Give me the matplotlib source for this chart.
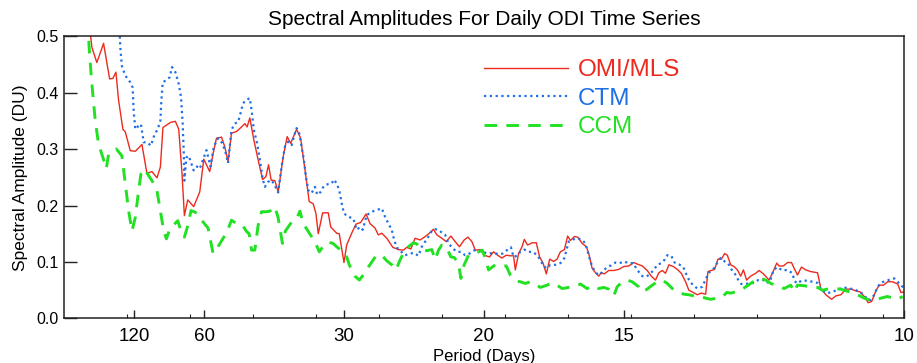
import numpy as np
import matplotlib
matplotlib.use("Agg")
import matplotlib.pyplot as plt
from matplotlib.ticker import FixedLocator

plt.rcParams["font.family"] = ["Liberation Sans", "DejaVu Sans"]

# frequencies in 1e-3 cycles/day, amplitudes in DU
omi_freq = [2.86, 3.32, 3.91, 4.71, 5.43, 5.82, 6.18, 6.50, 7.01, 7.30,
            7.89, 8.49, 9.28, 9.87, 10.47, 11.07, 11.47, 11.78, 12.67, 13.26,
            13.66, 14.05, 14.33, 14.73, 15.44, 16.16, 16.64, 17.35, 17.75, 18.15,
            18.75, 19.14, 19.53, 19.94, 20.54, 21.13, 21.53, 21.80, 22.12, 22.60,
            23.11, 23.64, 24.03, 24.35, 24.66, 25.10, 25.50, 26.09, 26.57, 26.98,
            27.69, 28.17, 28.48, 28.80, 29.19, 29.67, 29.99, 30.27, 30.79, 31.46,
            31.75, 32.46, 32.77, 33.33, 33.65, 34.25, 34.76, 35.32, 35.96, 36.43,
            37.03, 37.42, 37.83, 38.43, 39.14, 39.81, 40.41, 40.81, 41.29, 41.80,
            42.40, 42.99, 43.51, 43.98, 44.39, 44.98, 45.50, 46.06, 46.57, 47.08,
            47.64, 48.09, 48.56, 48.96, 49.55, 50.03, 50.66, 51.14, 51.62, 52.14,
            52.65, 53.13, 53.52, 53.73, 54.12, 54.53, 54.80, 55.19, 55.72, 56.23,
            56.62, 57.03, 57.42, 57.82, 58.29, 58.70, 59.09, 59.57, 59.96, 60.29,
            60.76, 61.16, 61.68, 62.19, 62.47, 62.87, 63.27, 63.66, 63.95, 64.34,
            64.85, 65.45, 66.05, 66.64, 67.24, 67.83, 68.31, 68.84, 69.43, 69.91,
            70.42, 70.82, 71.22, 71.61, 72.01, 72.53, 73.01, 73.49, 74.00, 74.39,
            74.92, 75.40, 75.87, 76.39, 76.66, 77.07, 77.46, 77.85, 78.26, 78.65,
            78.97, 79.37, 79.76, 80.17, 80.56, 80.88, 81.27, 81.75, 82.35, 82.74,
            83.27, 83.94, 84.34, 84.85, 85.13, 85.65, 86.13, 86.61, 86.92, 87.32,
            87.80, 88.31, 88.91, 89.71, 90.10, 90.70, 91.38, 91.89, 92.49, 93.08,
            93.68, 94.27, 94.79, 95.26, 95.74, 96.15, 96.66, 97.05, 97.58, 98.05,
            98.65, 99.25, 99.64, 100.0]
omi_amp = [0.54, 0.480, 0.453, 0.487, 0.424, 0.425, 0.436, 0.386, 0.335, 0.330,
           0.297, 0.296, 0.308, 0.257, 0.260, 0.249, 0.268, 0.338, 0.347, 0.349,
           0.335, 0.256, 0.182, 0.210, 0.198, 0.224, 0.282, 0.260, 0.292, 0.319,
           0.321, 0.304, 0.278, 0.328, 0.331, 0.339, 0.345, 0.339, 0.355, 0.316,
           0.281, 0.246, 0.251, 0.272, 0.245, 0.244, 0.224, 0.286, 0.322, 0.310,
           0.335, 0.319, 0.286, 0.251, 0.207, 0.203, 0.186, 0.150, 0.187, 0.187,
           0.162, 0.151, 0.150, 0.099, 0.130, 0.151, 0.167, 0.170, 0.185, 0.168,
           0.160, 0.148, 0.151, 0.142, 0.126, 0.122, 0.121, 0.126, 0.123, 0.142,
           0.139, 0.145, 0.151, 0.158, 0.148, 0.142, 0.136, 0.146, 0.136, 0.127,
           0.139, 0.144, 0.136, 0.121, 0.122, 0.112, 0.109, 0.118, 0.112, 0.107,
           0.112, 0.111, 0.111, 0.086, 0.115, 0.127, 0.140, 0.130, 0.134, 0.134,
           0.109, 0.098, 0.079, 0.105, 0.101, 0.105, 0.118, 0.122, 0.146, 0.138,
           0.145, 0.144, 0.133, 0.127, 0.115, 0.089, 0.081, 0.075, 0.081, 0.079,
           0.085, 0.085, 0.087, 0.092, 0.093, 0.099, 0.096, 0.093, 0.085, 0.075,
           0.068, 0.081, 0.085, 0.080, 0.095, 0.092, 0.087, 0.080, 0.065, 0.050,
           0.046, 0.042, 0.045, 0.043, 0.083, 0.085, 0.087, 0.105, 0.105, 0.115,
           0.112, 0.095, 0.092, 0.086, 0.075, 0.086, 0.068, 0.075, 0.080, 0.085,
           0.079, 0.068, 0.080, 0.098, 0.093, 0.093, 0.099, 0.099, 0.089, 0.077,
           0.091, 0.086, 0.083, 0.081, 0.053, 0.042, 0.034, 0.040, 0.042, 0.052,
           0.052, 0.049, 0.047, 0.039, 0.028, 0.030, 0.049, 0.059, 0.059, 0.065,
           0.065, 0.061, 0.046, 0.047]

ctm_freq = [6.56, 6.70, 6.89, 7.30, 7.89, 8.17, 8.29, 8.49, 8.88, 9.16,
            9.48, 9.87, 10.35, 10.76, 11.15, 11.47, 11.59, 11.75, 12.07, 12.58,
            12.86, 13.26, 13.66, 13.93, 14.13, 14.25, 14.33, 14.57, 14.85, 15.12,
            15.44, 15.84, 16.16, 16.55, 16.96, 17.44, 17.83, 18.34, 18.87, 19.26,
            19.53, 19.94, 20.33, 20.73, 21.01, 21.32, 21.73, 22.12, 22.33, 22.60,
            22.99, 23.32, 23.64, 23.91, 24.31, 24.71, 25.10, 25.50, 25.90, 26.30,
            26.69, 27.10, 27.37, 27.69, 28.00, 28.29, 28.56, 28.80, 29.08, 29.48,
            29.87, 30.15, 30.55, 30.95, 31.46, 31.87, 32.14, 32.46, 32.77, 33.06,
            33.33, 33.85, 34.44, 34.85, 35.24, 35.56, 36.04, 36.64, 37.23, 37.83,
            38.22, 38.62, 39.02, 39.30, 39.62, 40.01, 40.61, 41.20, 41.68, 42.19,
            42.60, 42.99, 43.39, 43.79, 44.19, 44.58, 44.98, 45.38, 45.77, 46.30,
            46.77, 47.25, 47.76, 48.28, 48.75, 49.23, 49.75, 50.54, 51.14, 51.73,
            52.26, 52.74, 53.21, 53.52, 53.93, 54.32, 54.80, 55.31, 55.84, 56.31,
            56.71, 57.10, 57.51, 57.90, 58.50, 59.09, 59.57, 59.81, 60.08, 60.61,
            61.16, 61.68, 62.07, 62.35, 62.67, 62.99, 63.39, 63.78, 64.26, 64.73,
            65.26, 65.65, 66.16, 66.64, 67.24, 67.76, 68.24, 68.84, 69.35, 69.83,
            70.22, 70.63, 71.10, 71.50, 71.82, 72.30, 72.69, 73.20, 73.73, 74.12,
            74.51, 74.92, 75.40, 75.99, 76.50, 76.90, 77.38, 77.78, 78.17, 78.65,
            79.05, 79.45, 79.84, 80.24, 80.64, 81.04, 81.55, 82.15, 82.62, 83.15,
            83.54, 84.05, 84.46, 84.94, 85.53, 86.13, 86.73, 86.92, 87.24, 87.80,
            88.51, 89.11, 89.71, 90.10, 90.70, 91.29, 91.77, 92.28, 92.88, 93.47,
            94.07, 94.67, 95.19, 95.67, 96.06, 96.46, 96.86, 97.26, 97.85, 98.45,
            98.84, 99.25, 99.64, 100.0]
ctm_amp = [0.53, 0.480, 0.447, 0.430, 0.418, 0.409, 0.368, 0.335, 0.341, 0.344,
           0.312, 0.312, 0.306, 0.325, 0.335, 0.350, 0.385, 0.418, 0.421, 0.427,
           0.445, 0.436, 0.415, 0.392, 0.344, 0.297, 0.244, 0.285, 0.288, 0.276,
           0.262, 0.269, 0.265, 0.281, 0.298, 0.269, 0.304, 0.319, 0.310, 0.292,
           0.275, 0.334, 0.345, 0.348, 0.363, 0.381, 0.387, 0.390, 0.369, 0.334,
           0.310, 0.281, 0.248, 0.233, 0.242, 0.245, 0.235, 0.223, 0.269, 0.304,
           0.313, 0.307, 0.322, 0.337, 0.328, 0.304, 0.281, 0.251, 0.227, 0.222,
           0.233, 0.219, 0.224, 0.235, 0.238, 0.239, 0.246, 0.239, 0.227, 0.204,
           0.186, 0.180, 0.177, 0.157, 0.162, 0.157, 0.183, 0.189, 0.192, 0.195,
           0.180, 0.168, 0.157, 0.139, 0.126, 0.120, 0.112, 0.115, 0.116, 0.111,
           0.127, 0.136, 0.145, 0.155, 0.158, 0.157, 0.152, 0.148, 0.133, 0.124,
           0.118, 0.118, 0.112, 0.115, 0.120, 0.122, 0.118, 0.115, 0.116, 0.114,
           0.115, 0.121, 0.126, 0.109, 0.111, 0.118, 0.122, 0.118, 0.118, 0.112,
           0.104, 0.092, 0.089, 0.095, 0.095, 0.098, 0.107, 0.121, 0.136, 0.140,
           0.142, 0.139, 0.133, 0.118, 0.101, 0.089, 0.080, 0.077, 0.086, 0.091,
           0.095, 0.099, 0.098, 0.101, 0.098, 0.098, 0.086, 0.075, 0.074, 0.080,
           0.086, 0.095, 0.098, 0.104, 0.112, 0.111, 0.099, 0.096, 0.091, 0.077,
           0.065, 0.059, 0.053, 0.056, 0.073, 0.083, 0.089, 0.099, 0.107, 0.101,
           0.098, 0.087, 0.080, 0.069, 0.061, 0.061, 0.062, 0.063, 0.068, 0.069,
           0.063, 0.065, 0.086, 0.091, 0.085, 0.086, 0.080, 0.068, 0.062, 0.067,
           0.067, 0.065, 0.063, 0.052, 0.045, 0.046, 0.049, 0.052, 0.055, 0.053,
           0.052, 0.047, 0.043, 0.033, 0.033, 0.042, 0.056, 0.063, 0.067, 0.069,
           0.071, 0.065, 0.058, 0.055]

ccm_freq = [2.80, 3.04, 3.32, 3.72, 4.11, 4.63, 5.03, 5.31, 5.70, 6.23,
            6.89, 7.30, 7.69, 8.09, 8.49, 8.88, 9.16, 9.56, 10.08, 10.59,
            11.07, 11.47, 11.87, 12.19, 12.58, 13.14, 13.54, 13.93, 14.33, 14.73,
            15.12, 15.65, 16.16, 17.15, 17.75, 18.34, 18.94, 19.34, 19.94, 20.54,
            21.25, 21.73, 22.04, 22.33, 22.72, 23.11, 23.52, 24.11, 24.51, 25.10,
            25.50, 26.00, 26.36, 27.16, 27.69, 28.09, 28.48, 29.08, 29.87, 30.39,
            30.95, 31.46, 32.02, 32.46, 33.06, 33.57, 33.96, 34.64, 35.16, 35.63,
            36.23, 36.83, 37.15, 37.83, 38.43, 39.02, 39.53, 39.93, 40.41, 41.00,
            41.60, 42.00, 42.60, 43.20, 43.79, 44.19, 44.58, 44.98, 45.50, 46.06,
            46.45, 46.96, 47.25, 47.64, 48.16, 48.75, 49.35, 49.79, 50.15, 50.54,
            51.34, 51.94, 52.65, 53.13, 53.73, 54.32, 54.92, 55.51, 56.11, 56.71,
            57.51, 58.10, 58.70, 59.30, 60.08, 60.68, 61.48, 62.28, 63.07, 63.66,
            64.26, 64.85, 65.45, 65.85, 66.45, 67.05, 67.64, 68.43, 68.84, 69.43,
            70.03, 70.63, 71.22, 71.82, 72.42, 73.01, 73.80, 74.39, 74.99, 75.79,
            76.39, 76.98, 77.78, 78.38, 78.89, 79.37, 79.96, 80.56, 81.16, 81.75,
            82.35, 82.94, 83.54, 84.14, 84.73, 85.33, 85.72, 86.52, 86.92, 87.32,
            88.11, 88.91, 89.71, 90.30, 90.90, 91.69, 92.49, 93.08, 93.88, 94.48,
            95.26, 95.86, 96.46, 97.26, 98.05, 98.65, 99.25, 99.84]
ccm_amp = [0.53, 0.468, 0.415, 0.350, 0.309, 0.285, 0.265, 0.291, 0.296, 0.300,
           0.288, 0.238, 0.191, 0.155, 0.179, 0.226, 0.256, 0.265, 0.253, 0.241,
           0.226, 0.191, 0.155, 0.141, 0.158, 0.167, 0.173, 0.155, 0.144, 0.164,
           0.191, 0.188, 0.178, 0.160, 0.115, 0.127, 0.142, 0.151, 0.174, 0.168,
           0.165, 0.154, 0.150, 0.121, 0.121, 0.165, 0.189, 0.189, 0.190, 0.198,
           0.178, 0.133, 0.155, 0.172, 0.177, 0.190, 0.168, 0.154, 0.136, 0.118,
           0.130, 0.135, 0.133, 0.127, 0.120, 0.113, 0.095, 0.075, 0.068, 0.077,
           0.091, 0.104, 0.111, 0.112, 0.102, 0.095, 0.086, 0.101, 0.116, 0.127,
           0.134, 0.132, 0.122, 0.120, 0.122, 0.104, 0.121, 0.130, 0.127, 0.109,
           0.108, 0.098, 0.071, 0.095, 0.112, 0.115, 0.118, 0.121, 0.107, 0.086,
           0.095, 0.093, 0.093, 0.077, 0.067, 0.065, 0.062, 0.065, 0.061, 0.055,
           0.059, 0.063, 0.059, 0.053, 0.055, 0.056, 0.061, 0.053, 0.058, 0.053,
           0.055, 0.052, 0.040, 0.056, 0.065, 0.068, 0.065, 0.056, 0.047, 0.052,
           0.059, 0.065, 0.068, 0.062, 0.053, 0.047, 0.043, 0.042, 0.040, 0.039,
           0.036, 0.034, 0.036, 0.038, 0.046, 0.045, 0.047, 0.050, 0.056, 0.062,
           0.068, 0.071, 0.068, 0.062, 0.059, 0.056, 0.053, 0.059, 0.047, 0.059,
           0.058, 0.056, 0.055, 0.050, 0.052, 0.053, 0.052, 0.049, 0.046, 0.042,
           0.036, 0.033, 0.033, 0.036, 0.039, 0.036, 0.034, 0.039]

tick_periods = [120, 60, 30, 20, 15, 10]
labels = ["OMI/MLS", "CTM", "CCM"]
colors = ["#ec2a1e", "#1f6fe6", "#22e022"]

fig = plt.figure(figsize=(9.17, 3.63), dpi=100)
ax = fig.add_axes([0.0698, 0.1226, 0.9160, 0.7782])

ax.plot(np.array(omi_freq) / 1000, omi_amp, color=colors[0], lw=1.0, label=labels[0])
ax.plot(np.array(ctm_freq) / 1000, ctm_amp, color=colors[1], lw=1.6,
        linestyle=(0, (1, 1.6)), label=labels[1])
ax.plot(np.array(ccm_freq) / 1000, ccm_amp, color=colors[2], lw=2.1,
        linestyle=(0, (4.3, 3.2)), label=labels[2])

ax.set_xlim(0, 0.1)
ax.set_ylim(0, 0.5)

ax.set_xticks([1.0 / p for p in tick_periods])
ax.set_xticklabels([str(p) for p in tick_periods])
ax.xaxis.set_minor_locator(FixedLocator(np.arange(1, 14) * 0.0075))
ax.set_yticks([0.0, 0.1, 0.2, 0.3, 0.4, 0.5])
ax.set_yticklabels(["0.0", "0.1", "0.2", "0.3", "0.4", "0.5"])

ax.tick_params(axis="x", which="major", direction="in", length=6, width=1,
               labelsize=13.5, pad=7, top=False, color="#222222")
ax.tick_params(axis="x", which="minor", direction="in", length=3, width=0.8,
               top=False, color="#222222")
ax.tick_params(axis="y", direction="in", length=9.5, width=1, labelsize=11.5,
               pad=4, right=False, color="#222222")
for s in ax.spines.values():
    s.set_linewidth(1.1)
    s.set_color("#222222")

ax.set_title("Spectral Amplitudes For Daily ODI Time Series", fontsize=15, pad=8)
ax.set_ylabel("Spectral Amplitude (DU)", fontsize=12.5, labelpad=6)
ax.set_xlabel("Period (Days)", fontsize=12, labelpad=3)

ax.legend(loc="upper left", bbox_to_anchor=(0.500, 0.918), frameon=False,
          borderpad=0, borderaxespad=0, handlelength=3.45, handletextpad=0.4,
          labelspacing=0.27, fontsize=17.5, labelcolor="linecolor")

fig.savefig("out.png", dpi=100)
